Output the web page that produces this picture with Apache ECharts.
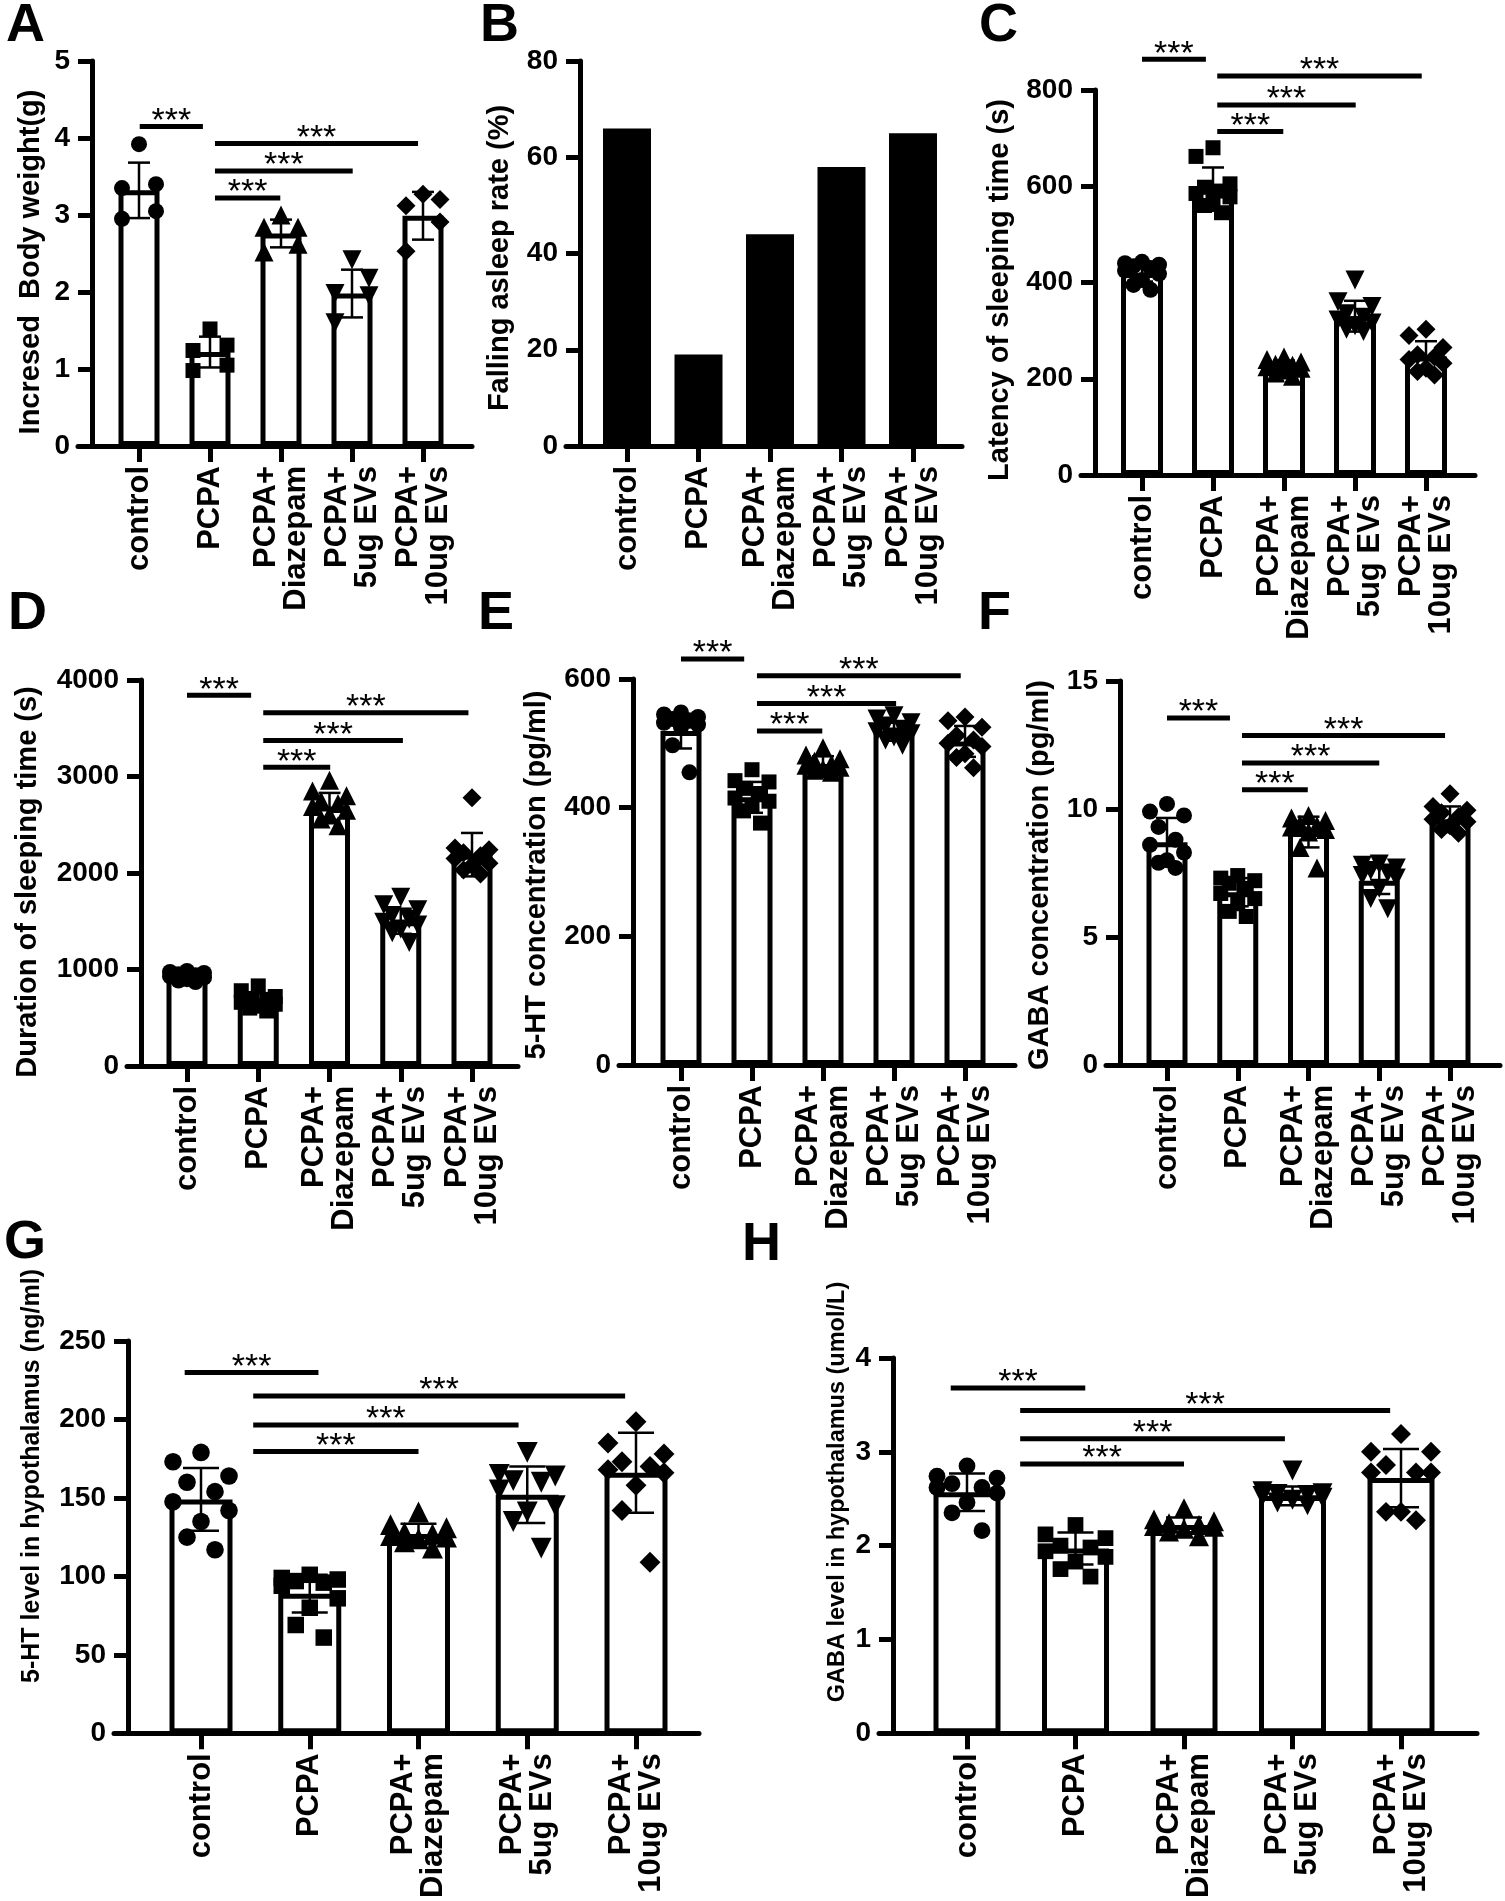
<!DOCTYPE html>
<html><head><meta charset="utf-8">
<script src="https://cdn.jsdelivr.net/npm/echarts/dist/echarts.min.js"></script>
<style>html,body{margin:0;padding:0;background:#fff}#c{width:1505px;height:1901px}</style>
</head><body><div id="c"></div>
<script>
// ---------- data ----------
const CATS = ['control', 'PCPA', 'PCPA+\nDiazepam', 'PCPA+\n5ug EVs', 'PCPA+\n10ug EVs'];

// A: Increased body weight (g)
const A_TICKS = [0, 1, 2, 3, 4, 5];
const A_MEAN = [3.32, 1.22, 2.76, 1.98, 2.99];
const A_SD = [0.36, 0.20, 0.18, 0.31, 0.31];
const A_PTS = [[3.92, 3.40, 3.35, 3.05, 2.95], [1.52, 1.31, 1.24, 1.05, 0.98], [3.00, 2.84, 2.84, 2.62, 2.52], [2.42, 2.18, 1.98, 1.95, 1.60], [3.27, 3.20, 3.12, 2.91, 2.53]];
const A_SIG = [[0.01, 0.9, 4.15], [1.07, 3.93, 3.93], [1.07, 3.01, 3.57], [1.07, 1.99, 3.22]];

// B: Falling asleep rate (%)
const B_TICKS = [0, 20, 40, 60, 80];
const B_VAL = [66, 19, 44, 58, 65];

// C: Latency of sleeping time (s)
const C_TICKS = [0, 200, 400, 600, 800];
const C_MEAN = [420, 594, 226, 330, 246];
const C_SD = [18, 45, 12, 32, 32];
const C_PTS = [[443, 440, 437, 434, 430, 425, 418, 405, 395, 385], [680, 662, 605, 598, 590, 585, 578, 570, 560, 545], [245, 240, 235, 230, 228, 225, 222, 218, 212, 205], [405, 360, 350, 335, 328, 322, 316, 310, 303, 298], [303, 290, 265, 250, 245, 240, 232, 222, 215, 208]];
const C_SIG = [[0, 0.9, 864], [1.06, 3.94, 829], [1.06, 3.01, 769], [1.06, 1.99, 714]];

// D: Duration of sleeping time (s)
const D_TICKS = [0, 1000, 2000, 3000, 4000];
const D_MEAN = [930, 680, 2690, 1500, 2190];
const D_SD = [35, 75, 140, 130, 225];
const D_PTS = [[985, 975, 965, 950, 940, 930, 915, 900, 885, 870], [830, 780, 720, 700, 680, 660, 640, 620, 600, 570], [2960, 2850, 2800, 2750, 2720, 2690, 2650, 2600, 2560, 2490], [1750, 1670, 1620, 1560, 1520, 1490, 1460, 1420, 1380, 1280], [2780, 2260, 2240, 2210, 2180, 2150, 2100, 2080, 2030, 1990]];
const D_SIG = [[0, 0.9, 3843], [1.07, 3.95, 3660], [1.07, 3.03, 3372], [1.07, 2.01, 3096]];

// E: 5-HT concentration (pg/ml)
const E_TICKS = [0, 200, 400, 600];
const E_MEAN = [519, 416, 468, 518, 503];
const E_SD = [27, 24, 12, 14, 24];
const E_PTS = [[548, 545, 541, 538, 535, 532, 529, 525, 497, 455], [459, 442, 440, 430, 422, 415, 410, 402, 395, 376], [493, 482, 476, 472, 468, 466, 463, 460, 458, 455], [543, 538, 532, 527, 522, 518, 515, 510, 505, 497], [541, 535, 525, 512, 505, 500, 495, 484, 478, 462]];
const E_SIG = [[0, 0.89, 631], [1.07, 3.94, 605], [1.07, 3.03, 562], [1.07, 1.99, 519]];

// F: GABA concentration (pg/ml)
const F_TICKS = [0, 5, 10, 15];
const F_MEAN = [8.7, 6.75, 9.1, 7.2, 9.6];
const F_SD = [0.95, 0.55, 0.6, 0.52, 0.5];
const F_PTS = [[10.2, 9.9, 9.75, 9.3, 8.8, 8.6, 8.3, 8.0, 7.9, 7.7], [7.4, 7.3, 7.2, 7.1, 6.9, 6.7, 6.5, 6.3, 6.0, 5.8], [9.75, 9.65, 9.55, 9.4, 9.35, 9.3, 9.2, 9.1, 8.5, 7.7], [7.85, 7.8, 7.7, 7.6, 7.5, 7.4, 7.3, 6.9, 6.5, 6.1], [10.6, 10.1, 9.95, 9.85, 9.7, 9.6, 9.5, 9.35, 9.2, 9.05]];
const F_SIG = [[0, 0.89, 13.55], [1.06, 3.93, 12.87], [1.06, 3.0, 11.8], [1.06, 1.99, 10.75]];

// G: 5-HT level in hypothalamus (ng/ml)
const G_TICKS = [0, 50, 100, 150, 200, 250];
const G_MEAN = [149, 89, 127, 152, 166];
const G_SD = [20, 12, 6.5, 18, 25.5];
const G_PTS = [[179, 173, 164, 160, 154, 147.5, 142, 135, 125, 117], [101, 99, 98, 97, 96, 94, 86, 80, 69, 61], [141, 133, 131, 128, 127, 126, 125, 124, 122, 118], [179, 165, 164, 161, 160, 155, 145, 141, 135, 118], [198.5, 185, 178, 173, 170, 168, 166, 158, 142, 109]];
const G_SIG = [[-0.15, 1.08, 230], [0.48, 3.9, 215], [0.48, 2.92, 196.5], [0.48, 2.0, 179.6]];

// H: GABA level in hypothalamus (umol/L)
const H_TICKS = [0, 1, 2, 3, 4];
const H_MEAN = [2.57, 1.97, 2.22, 2.53, 2.72];
const H_SD = [0.2, 0.17, 0.08, 0.1, 0.31];
const H_PTS = [[2.85, 2.74, 2.72, 2.66, 2.62, 2.62, 2.56, 2.46, 2.35, 2.16], [2.22, 2.12, 2.08, 2.0, 1.98, 1.94, 1.88, 1.83, 1.75, 1.67], [2.4, 2.28, 2.26, 2.24, 2.22, 2.21, 2.2, 2.18, 2.15, 2.1], [2.8, 2.58, 2.56, 2.55, 2.54, 2.53, 2.51, 2.49, 2.46, 2.43], [3.19, 3.0, 3.0, 2.86, 2.78, 2.78, 2.78, 2.36, 2.36, 2.27]];
const H_SIG = [[-0.15, 1.09, 3.68], [0.49, 3.9, 3.44], [0.49, 2.93, 3.14], [0.49, 2.0, 2.87]];

// ---------- layout / style ----------
const FONT = '"Liberation Sans", Arial, Helvetica, sans-serif';
const SYM = [
  {s: 'circle', size: 16, rot: 0},
  {s: 'rect', size: 15, rot: 0},
  {s: 'triangle', size: 19, rot: 0},
  {s: 'triangle', size: 19, rot: 180},
  {s: 'diamond', size: 19, rot: 0}
];
const JIT5 = [0, 1, -1, 1, -1];
const JIT10 = [0, -1, 1, -0.5, 0.5, -1, 1, 0, -0.5, 0.5];

const PANELS = [
  {key: 'A', title: 'Incresed  Body weight(g)', ticks: A_TICKS, mean: A_MEAN, sd: A_SD, pts: A_PTS, sig: A_SIG,
   ax: 92, right: 472, top: 61, bottom: 446, c0: 139, step: 71, barW: 41, half: 17, cap: 11, symScale: 1, lx: 6, ly: 26, tx: 31, ty: 262, tf: 29},
  {key: 'B', title: 'Falling asleep rate (%)', ticks: B_TICKS, mean: B_VAL, solid: true,
   ax: 580, right: 962, top: 61, bottom: 446, c0: 627, step: 71.5, barW: 48, lx: 480, ly: 26, tx: 500, ty: 258, tf: 29},
  {key: 'C', title: 'Latency of sleeping time (s)', ticks: C_TICKS, mean: C_MEAN, sd: C_SD, pts: C_PTS, sig: C_SIG,
   ax: 1095, right: 1475, top: 90, bottom: 475, c0: 1142, step: 71, barW: 42, half: 17, cap: 11, symScale: 1, lx: 979, ly: 26, tx: 1000, ty: 290, tf: 29},
  {key: 'D', title: 'Duration of sleeping time (s)', ticks: D_TICKS, mean: D_MEAN, sd: D_SD, pts: D_PTS, sig: D_SIG,
   ax: 141, right: 518, top: 680, bottom: 1066, c0: 187, step: 71.25, barW: 41, half: 17, cap: 11, symScale: 1, lx: 8, ly: 614, tx: 28, ty: 882, tf: 29},
  {key: 'E', title: '5-HT concentration (pg/ml)', ticks: E_TICKS, mean: E_MEAN, sd: E_SD, pts: E_PTS, sig: E_SIG,
   ax: 633, right: 1015, top: 679, bottom: 1065, c0: 681, step: 71, barW: 41, half: 17, cap: 11, symScale: 1, lx: 478, ly: 614, tx: 537, ty: 875, tf: 29},
  {key: 'F', title: 'GABA concentration (pg/ml)', ticks: F_TICKS, mean: F_MEAN, sd: F_SD, pts: F_PTS, sig: F_SIG,
   ax: 1120, right: 1500, top: 681, bottom: 1065, c0: 1167, step: 70.75, barW: 41, half: 17, cap: 11, symScale: 1, lx: 978, ly: 614, tx: 1040, ty: 875, tf: 29},
  {key: 'G', title: '5-HT level in hypothalamus (ng/ml)', ticks: G_TICKS, mean: G_MEAN, sd: G_SD, pts: G_PTS, sig: G_SIG,
   ax: 128, right: 699, top: 1341, bottom: 1738, c0: 201, step: 108.75, barW: 63, half: 28, cap: 18, symScale: 1.1, lx: 4, ly: 1243, tx: 32, ty: 1476, tf: 25},
  {key: 'H', title: 'GABA level in hypothalamus (umol/L)', ticks: H_TICKS, mean: H_MEAN, sd: H_SD, pts: H_PTS, sig: H_SIG,
   ax: 893, right: 1477, top: 1358, bottom: 1746, c0: 967, step: 108.5, barW: 67, half: 30, cap: 18, symScale: 1.05, lx: 742, ly: 1245, tx: 838, ty: 1492, tf: 23.5}
];

// ---------- build ----------
const grid = [], xAxis = [], yAxis = [], series = [], graphic = [];
PANELS.forEach((P, k) => {
  const L = P.ax - 14;
  const tks = P.ticks;
  grid.push({left: L, top: P.top, width: P.right - L, height: P.bottom - P.top, containLabel: false});
  xAxis.push({
    gridIndex: k, type: 'value', min: (L - P.c0) / P.step, max: (P.right - P.c0) / P.step,
    axisLine: {show: true, onZero: false, lineStyle: {color: '#000', width: 5}},
    axisTick: {show: true, customValues: [0, 1, 2, 3, 4], length: 16, lineStyle: {color: '#000', width: 5}},
    axisLabel: {show: true, customValues: [0, 1, 2, 3, 4], formatter: v => CATS[Math.round(v)], rotate: 90, margin: 20,
      color: '#000', fontSize: 31, fontWeight: 'bold', lineHeight: 30, fontFamily: FONT},
    splitLine: {show: false}
  });
  yAxis.push({
    gridIndex: k, type: 'value', min: tks[0], max: tks[tks.length - 1], interval: tks[1] - tks[0], offset: -14,
    axisLine: {show: true, onZero: false, lineStyle: {color: '#000', width: 5}},
    axisTick: {show: true, length: 14, lineStyle: {color: '#000', width: 5}},
    axisLabel: {color: '#000', fontSize: 28, fontWeight: 'bold', margin: 22, fontFamily: FONT, formatter: v => String(v)},
    splitLine: {show: false}
  });
  series.push({
    type: 'bar', xAxisIndex: k, yAxisIndex: k, barWidth: P.barW, z: 2,
    data: P.mean.map((v, i) => [i, v]),
    itemStyle: P.solid ? {color: '#000', borderWidth: 0, opacity: 1} : {color: '#fff', borderColor: '#000', borderWidth: 5, opacity: 1}
  });
  if (P.pts) {
    series.push({
      type: 'scatter', xAxisIndex: k, yAxisIndex: k, z: 3,
      data: P.pts.flatMap((arr, i) => arr.map((v, j) => {
        const jit = arr.length <= 5 ? JIT5 : JIT10;
        return {value: [i, v], symbol: SYM[i].s, symbolSize: SYM[i].size * P.symScale, symbolRotate: SYM[i].rot,
          symbolOffset: [jit[j % jit.length] * P.half, 0]};
      })),
      itemStyle: {color: '#000', opacity: 1}
    });
    series.push({
      type: 'custom', xAxisIndex: k, yAxisIndex: k, z: 4, clip: false,
      data: P.mean.map((m, i) => [i, m - P.sd[i], m + P.sd[i]]),
      renderItem: (params, api) => {
        const lo = api.coord([api.value(0), api.value(1)]);
        const hi = api.coord([api.value(0), api.value(2)]);
        const w = P.cap, st = {stroke: '#000', lineWidth: 2.5};
        return {type: 'group', children: [
          {type: 'line', shape: {x1: lo[0], y1: lo[1], x2: hi[0], y2: hi[1]}, style: st},
          {type: 'line', shape: {x1: hi[0] - w, y1: hi[1], x2: hi[0] + w, y2: hi[1]}, style: st},
          {type: 'line', shape: {x1: lo[0] - w, y1: lo[1], x2: lo[0] + w, y2: lo[1]}, style: st}
        ]};
      }
    });
    series.push({
      type: 'custom', xAxisIndex: k, yAxisIndex: k, z: 5, clip: false,
      data: P.sig,
      renderItem: (params, api) => {
        const a = api.coord([api.value(0), api.value(2)]);
        const b = api.coord([api.value(1), api.value(2)]);
        return {type: 'group', children: [
          {type: 'line', shape: {x1: a[0], y1: a[1], x2: b[0], y2: b[1]}, style: {stroke: '#000', lineWidth: 5}},
          {type: 'text', x: (a[0] + b[0]) / 2, y: a[1] - 5,
            style: {text: '***', fill: '#000', font: '34px ' + FONT, align: 'center', verticalAlign: 'middle'}}
        ]};
      }
    });
  }
  graphic.push({type: 'text', x: P.lx, y: P.ly, z: 10,
    style: {text: P.key, fill: '#000', font: 'bold 54px ' + FONT, align: 'left', verticalAlign: 'middle'}});
  graphic.push({type: 'text', x: P.tx, y: P.ty, rotation: Math.PI / 2, z: 10,
    style: {text: P.title, fill: '#000', font: 'bold ' + P.tf + 'px ' + FONT, align: 'center', verticalAlign: 'middle'}});
});

const chart = echarts.init(document.getElementById('c'), null, {renderer: 'canvas'});
chart.setOption({animation: false, backgroundColor: '#fff', grid, xAxis, yAxis, series, graphic});
</script></body></html>
